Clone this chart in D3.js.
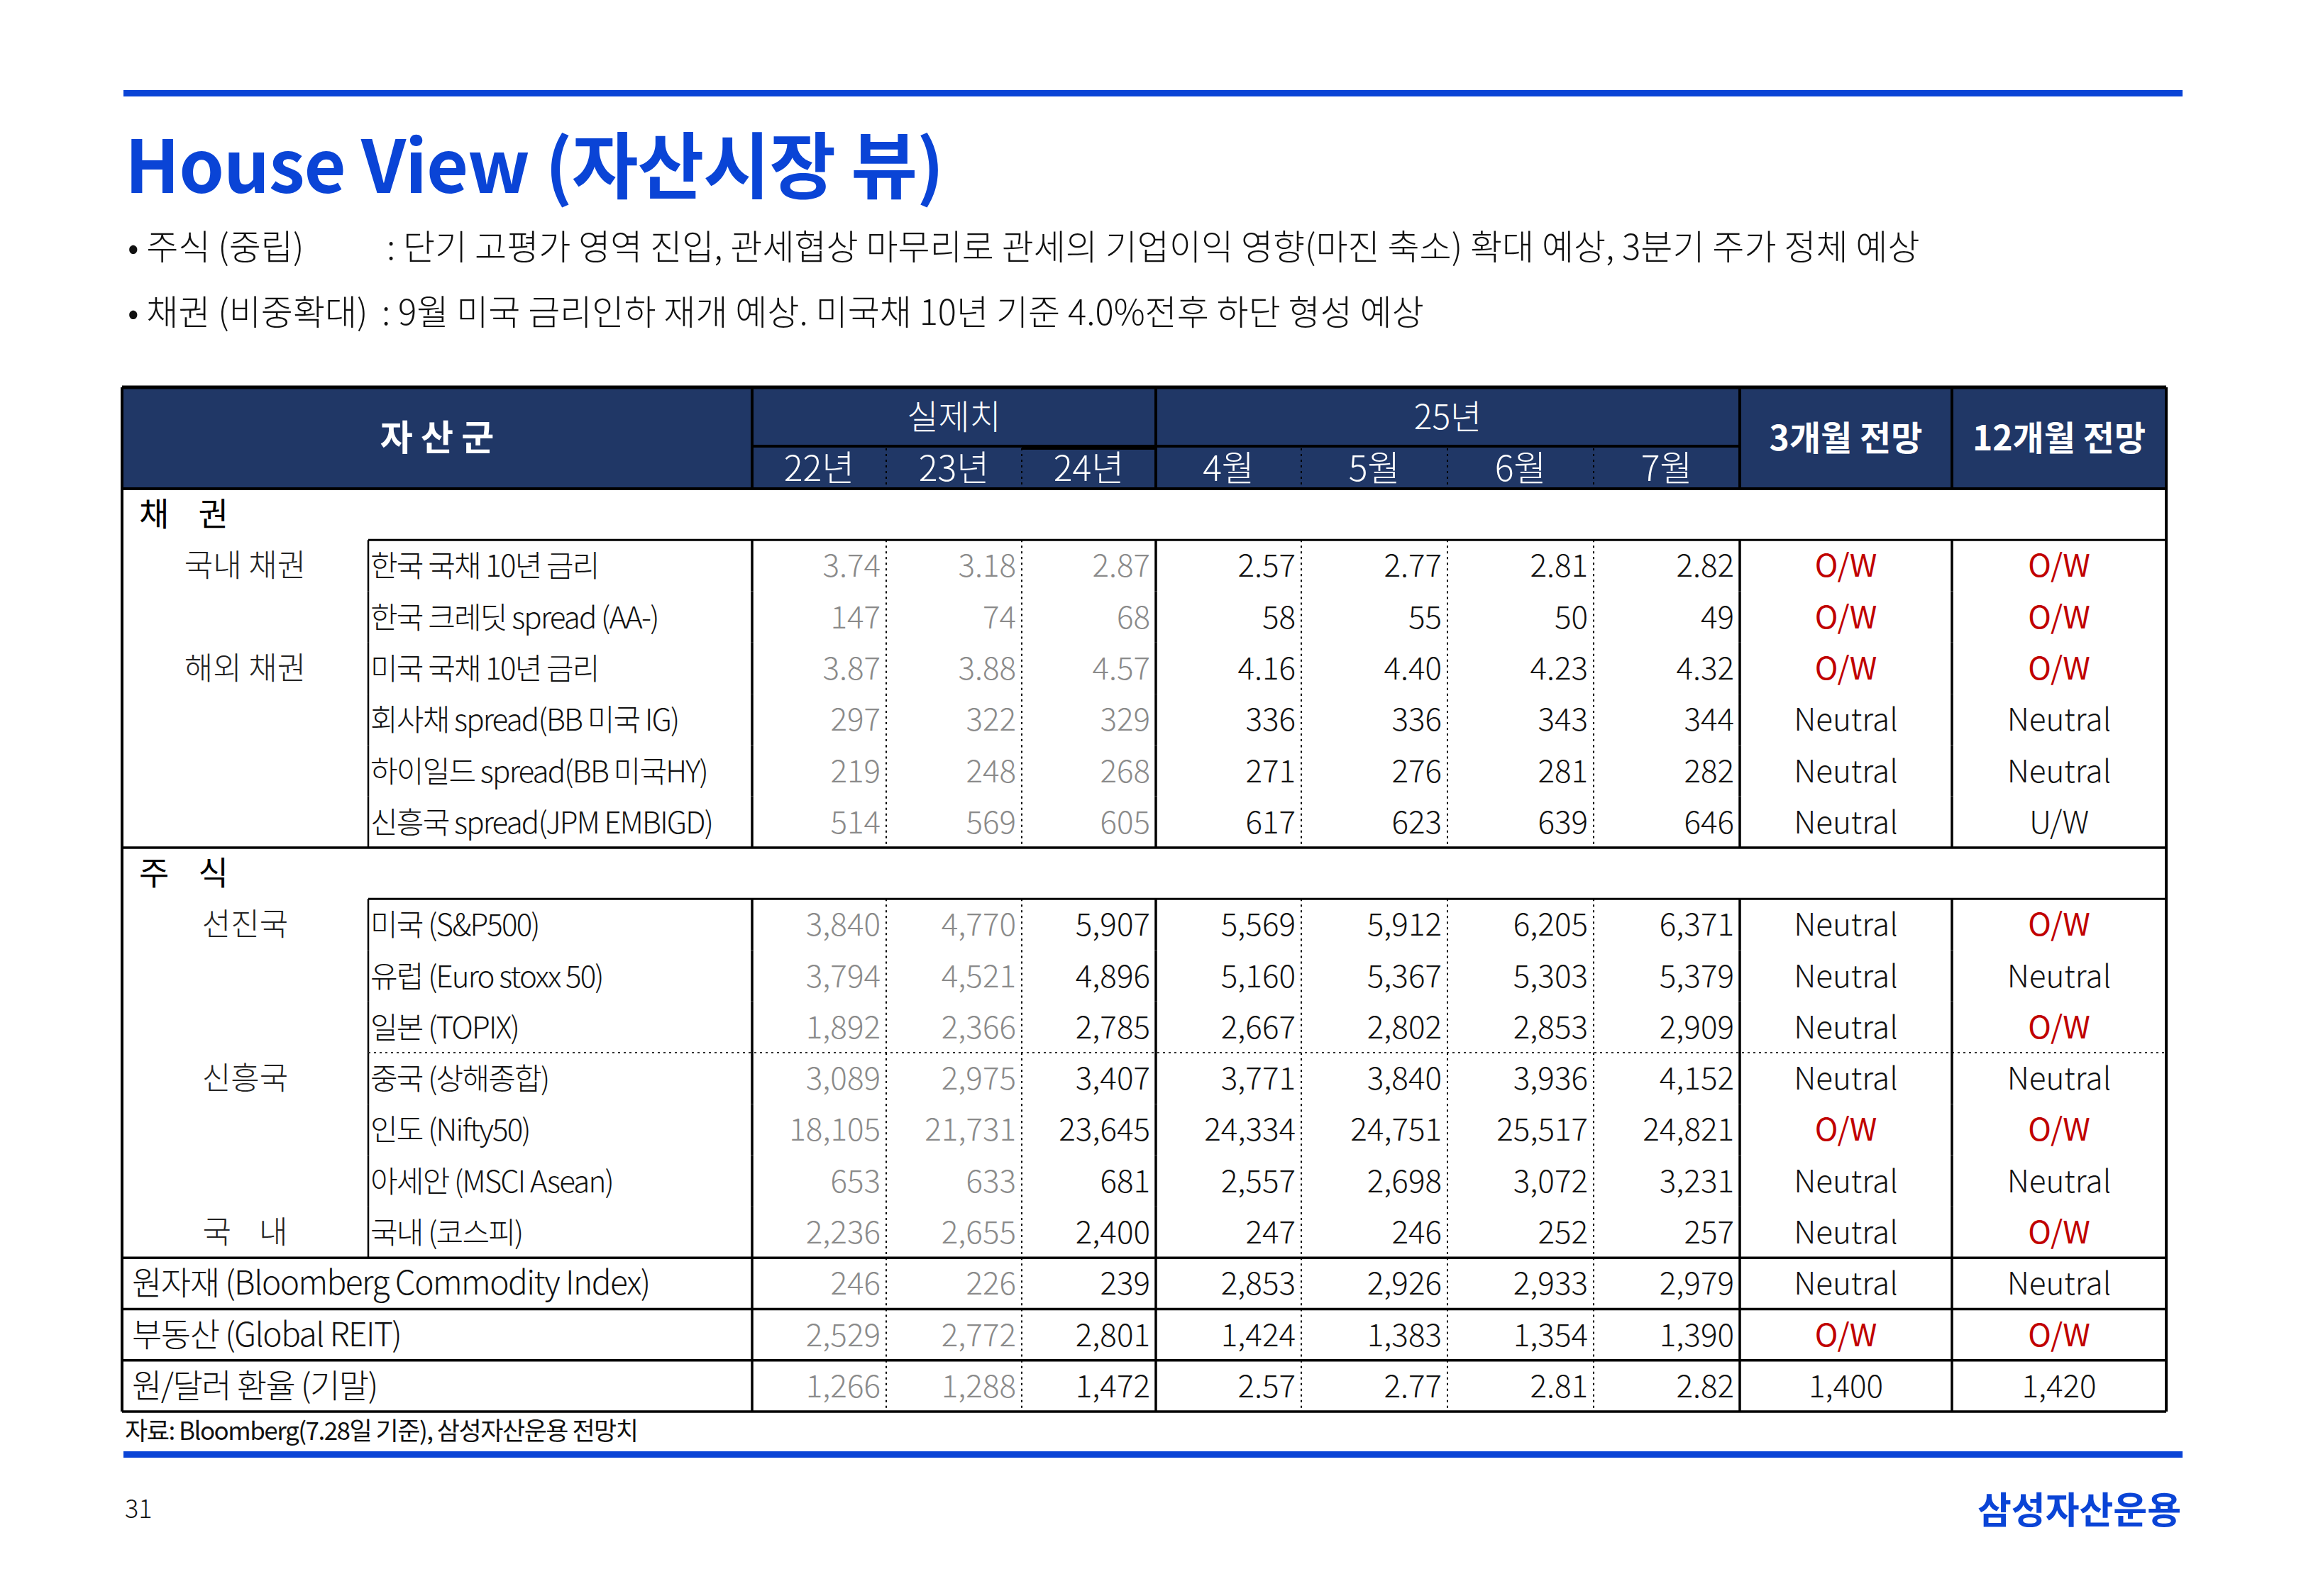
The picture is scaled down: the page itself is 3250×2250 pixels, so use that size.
<!DOCTYPE html>
<html><head><meta charset="utf-8">
<script src="https://cdn.jsdelivr.net/npm/d3@7"></script>
<style>body{margin:0;background:#fff}svg{display:block}text{font-family:"Noto Sans CJK KR","Noto Sans",sans-serif;white-space:pre}</style>
</head><body>
<script>
const title = "House View (자산시장 뷰)";
const bullets = [["• 주식 (중립)", ": 단기 고평가 영역 진입, 관세협상 마무리로 관세의 기업이익 영향(마진 축소) 확대 예상, 3분기 주가 정체 예상"],
                 ["• 채권 (비중확대)", ": 9월 미국 금리인하 재개 예상. 미국채 10년 기준 4.0%전후 하단 형성 예상"]];
const headerGroups = ["실제치", "25년"];
const columns = ["22년", "23년", "24년", "4월", "5월", "6월", "7월"];
const viewHeaders = ["3개월 전망", "12개월 전망"];
const sections = ["채    권", "주    식"];
const bondLabels = ["한국 국채 10년 금리", "한국 크레딧 spread (AA-)", "미국 국채 10년 금리", "회사채 spread(BB 미국 IG)", "하이일드 spread(BB 미국HY)", "신흥국 spread(JPM EMBIGD)"];
const bondGroups = ["국내 채권", "", "해외 채권", "", "", ""];
const equityLabels = ["미국 (S&P500)", "유럽 (Euro stoxx 50)", "일본 (TOPIX)", "중국 (상해종합)", "인도 (Nifty50)", "아세안 (MSCI Asean)", "국내 (코스피)"];
const equityGroups = ["선진국", "", "", "신흥국", "", "", "국    내"];
const otherLabels = ["원자재 (Bloomberg Commodity Index)", "부동산 (Global REIT)", "원/달러 환율 (기말)"];
const bondValues = [
 ["3.74","3.18","2.87","2.57","2.77","2.81","2.82"],
 ["147","74","68","58","55","50","49"],
 ["3.87","3.88","4.57","4.16","4.40","4.23","4.32"],
 ["297","322","329","336","336","343","344"],
 ["219","248","268","271","276","281","282"],
 ["514","569","605","617","623","639","646"]];
const equityValues = [
 ["3,840","4,770","5,907","5,569","5,912","6,205","6,371"],
 ["3,794","4,521","4,896","5,160","5,367","5,303","5,379"],
 ["1,892","2,366","2,785","2,667","2,802","2,853","2,909"],
 ["3,089","2,975","3,407","3,771","3,840","3,936","4,152"],
 ["18,105","21,731","23,645","24,334","24,751","25,517","24,821"],
 ["653","633","681","2,557","2,698","3,072","3,231"],
 ["2,236","2,655","2,400","247","246","252","257"]];
const otherValues = [
 ["246","226","239","2,853","2,926","2,933","2,979"],
 ["2,529","2,772","2,801","1,424","1,383","1,354","1,390"],
 ["1,266","1,288","1,472","2.57","2.77","2.81","2.82"]];
const bondViews3 = ["O/W","O/W","O/W","Neutral","Neutral","Neutral"];
const bondViews12 = ["O/W","O/W","O/W","Neutral","Neutral","U/W"];
const equityViews3 = ["Neutral","Neutral","Neutral","Neutral","O/W","Neutral","Neutral"];
const equityViews12 = ["O/W","Neutral","O/W","Neutral","O/W","Neutral","O/W"];
const otherViews3 = ["Neutral","O/W","1,400"];
const otherViews12 = ["Neutral","O/W","1,420"];
const source = "자료: Bloomberg(7.28일 기준), 삼성자산운용 전망치";
const pageNo = "31";
const logo = "삼성자산운용";

const W=3250,H=2250, BLUE="#0a44d6", NAVY="#203766", RED="#c00000", GRAY="#8a8a8a";
const svg=d3.select("body").append("svg").attr("width",W).attr("height",H);

const rows=[];
rows.push({type:"section",label:sections[0]});
bondLabels.forEach((l,i)=>rows.push({type:"item",label:l,group:bondGroups[i],vals:bondValues[i],v3:bondViews3[i],v12:bondViews12[i],gray24:true,last:i===bondLabels.length-1}));
rows.push({type:"section",label:sections[1]});
equityLabels.forEach((l,i)=>rows.push({type:"item",label:l,group:equityGroups[i],vals:equityValues[i],v3:equityViews3[i],v12:equityViews12[i],gray24:false,dotAfter:i===2,last:i===equityLabels.length-1}));
otherLabels.forEach((l,i)=>rows.push({type:"other",label:l,vals:otherValues[i],v3:otherViews3[i],v12:otherViews12[i]}));

const L=172,R=3053, labelDiv=519;
const colEdges=[1060,1249,1440,1629,1834,2040,2246,2452];
const viewEdges=[2452,2751,3053];
const y=d3.scaleBand().domain(d3.range(rows.length)).range([689,1990]);
const rh=y.bandwidth();
const xCol=d3.scaleOrdinal().domain(columns).range(colEdges.slice(1));
const xColL=d3.scaleOrdinal().domain(columns).range(colEdges.slice(0,-1));
const FW=300;

svg.append("rect").attr("x",174).attr("y",127).attr("width",3076-174).attr("height",9).attr("fill",BLUE);
svg.append("text").attr("x",176).attr("y",272).attr("font-size",102).attr("font-weight",700).attr("fill",BLUE).attr("letter-spacing",-1).text(title);
bullets.forEach((b,i)=>{
  const yy=[366,458][i];
  svg.append("text").attr("x",180).attr("y",yy).attr("font-size",49).attr("font-weight",FW).attr("fill","#111").text(b[0]);
  svg.append("text").attr("x",i===0?545:538).attr("y",yy).attr("font-size",49).attr("font-weight",FW).attr("fill","#111").text(b[1]);
});

svg.append("rect").attr("x",L).attr("y",546).attr("width",R-L).attr("height",689-546).attr("fill",NAVY);
const hl=(x1,y1,x2,y2,w,c,dash)=>svg.append("line").attr("x1",x1).attr("y1",y1).attr("x2",x2).attr("y2",y2).attr("stroke",c||"#000").attr("stroke-width",w).attr("stroke-dasharray",dash||null);
svg.append("text").attr("x",(L+colEdges[0])/2).attr("y",635).attr("text-anchor","middle").attr("font-size",50).attr("font-weight",700).attr("fill","#fff").text("자 산 군");
svg.append("text").attr("x",(colEdges[0]+colEdges[3])/2).attr("y",605).attr("text-anchor","middle").attr("font-size",48).attr("font-weight",FW).attr("fill","#fff").text(headerGroups[0]);
svg.append("text").attr("x",(colEdges[3]+colEdges[7])/2).attr("y",605).attr("text-anchor","middle").attr("font-size",48).attr("font-weight",FW).attr("fill","#fff").text(headerGroups[1]);
columns.forEach(c=>svg.append("text").attr("x",(xColL(c)+xCol(c))/2).attr("y",678).attr("text-anchor","middle").attr("font-size",50).attr("font-weight",FW).attr("fill","#fff").text(c));
viewHeaders.forEach((v,i)=>svg.append("text").attr("x",(viewEdges[i]+viewEdges[i+1])/2).attr("y",635).attr("text-anchor","middle").attr("font-size",48).attr("font-weight",700).attr("fill","#fff").text(v));
hl(colEdges[0],629,colEdges[7],629,4);
hl(colEdges[2],631,colEdges[3],631,6);
[1,2,4,5,6].forEach(i=>hl(colEdges[i],632,colEdges[i],689,2,"#000","3,5"));
hl(L,546,R,546,5);hl(L,689,R,689,4);

rows.forEach((r,i)=>{
  const y0=y(i), yc=y0+rh/2+16;
  if(r.type==="section"){
    svg.append("text").attr("x",196).attr("y",yc).attr("font-size",46).attr("font-weight",400).attr("fill","#000").text(r.label);
    hl(labelDiv,y0+rh,R,y0+rh,3);
    return;
  }
  const lx = r.type==="other"?186:labelDiv+3;
  if(r.group) svg.append("text").attr("x",(L+labelDiv)/2).attr("y",yc).attr("text-anchor","middle").attr("font-size",44).attr("font-weight",FW).attr("fill","#222").text(r.group);
  svg.append("text").attr("x",lx).attr("y",yc).attr("font-size",r.type==="other"?46:42).attr("font-weight",FW).attr("letter-spacing",r.type==="other"?-1.5:-1.8).attr("fill","#111").text(r.label);
  r.vals.forEach((v,j)=>{
    const c=columns[j];
    const gray = j<2 || (j===2 && r.gray24);
    svg.append("text").attr("x",xCol(c)-8).attr("y",yc).attr("text-anchor","end").attr("font-size",44).attr("font-weight",FW).attr("fill",gray?GRAY:"#111").text(v);
  });
  [r.v3,r.v12].forEach((v,k)=>svg.append("text").attr("x",(viewEdges[k]+viewEdges[k+1])/2).attr("y",yc).attr("text-anchor","middle").attr("font-size",44).attr("font-weight",v==="O/W"?400:FW).attr("fill",v==="O/W"?RED:"#111").text(v));
  if(r.type==="item"){
    hl(labelDiv,y0,labelDiv,y0+rh,2.5);
    if(r.dotAfter) hl(labelDiv,y0+rh,R,y0+rh,2,"#333","3,5");
    if(r.last) hl(L,y0+rh,R,y0+rh,3.5);
  } else hl(L,y0+rh,R,y0+rh,3.5);
});
const yBot=y(rows.length-1)+rh;
hl(L,546,L,yBot,4);hl(R,546,R,yBot,4);
rows.forEach((r,i)=>{
  if(r.type==="section") return;
  const y0=y(i),y1=y0+rh;
  [0,3,7].forEach(k=>hl(colEdges[k],y0,colEdges[k],y1,3.5));
  hl(viewEdges[1],y0,viewEdges[1],y1,3.5);
  [1,2,4,5,6].forEach(k=>hl(colEdges[k],y0,colEdges[k],y1,2,"#000","3,5"));
});
[0,3,7].forEach(k=>hl(colEdges[k],546,colEdges[k],689,4));
hl(viewEdges[1],546,viewEdges[1],689,4);

svg.append("text").attr("x",176).attr("y",2030).attr("font-size",35).attr("fill","#111").attr("letter-spacing",-1.5).text(source);
svg.append("rect").attr("x",174).attr("y",2046).attr("width",3076-174).attr("height",9).attr("fill",BLUE);
svg.append("text").attr("x",176).attr("y",2140).attr("font-size",36).attr("font-weight",FW).attr("fill","#111").text(pageNo);
svg.append("text").attr("x",3074).attr("y",2148).attr("text-anchor","end").attr("font-size",52).attr("font-weight",700).attr("fill",BLUE).text(logo);
</script>
</body></html>
